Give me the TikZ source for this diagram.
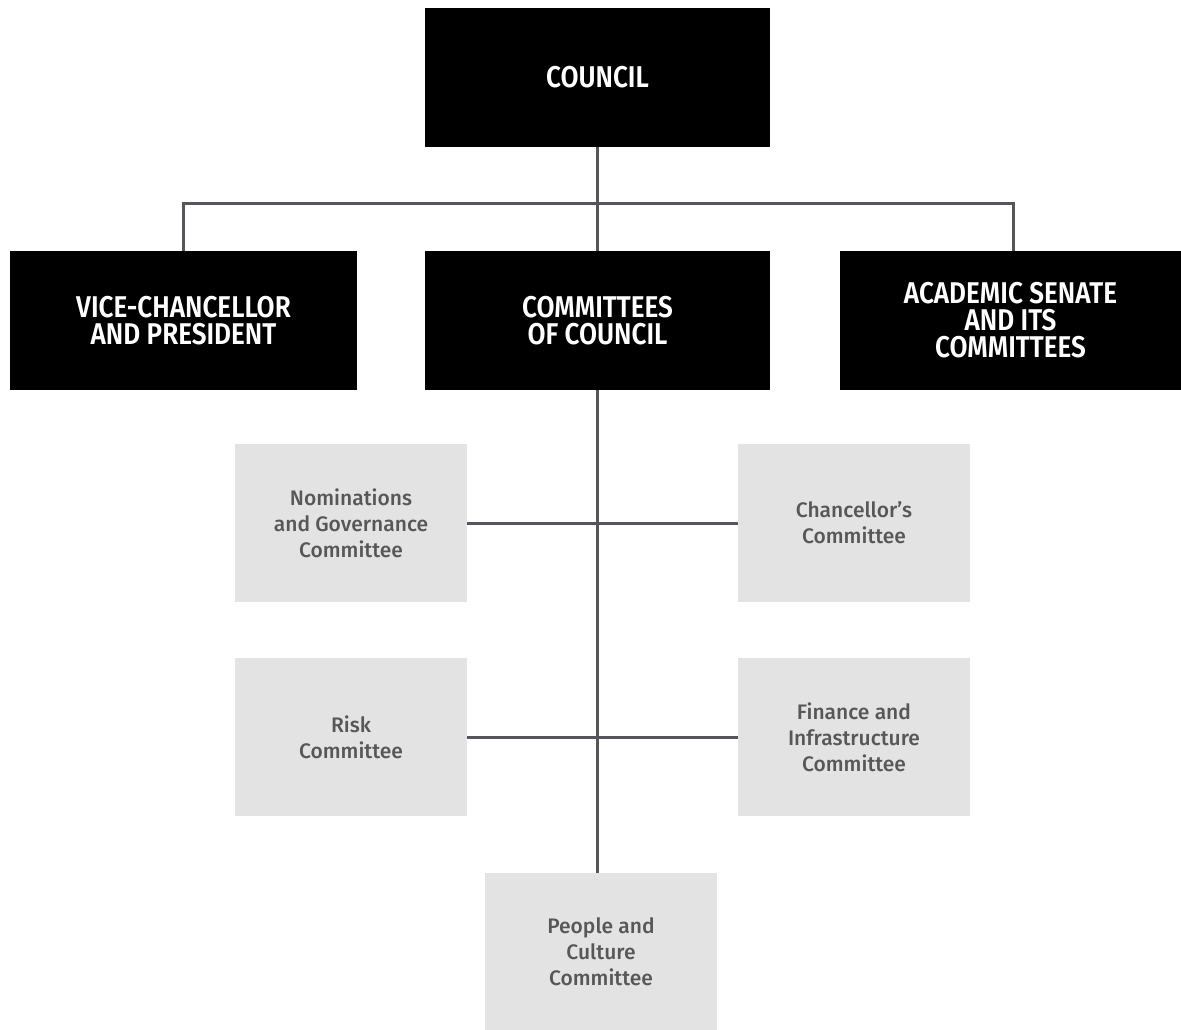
\documentclass[tikz,border=0pt]{standalone}
\usepackage{fontspec}
\setmainfont{Fira Sans}
\newfontfamily\headfont{Fira Sans SemiBold}[FakeStretch=0.87]
\newfontfamily\subfont{Fira Sans Medium}
\usepackage{tikz}
\usetikzlibrary{positioning}
\definecolor{linegray}{HTML}{55555C}
\definecolor{boxgray}{HTML}{E3E3E3}
\definecolor{textgray}{HTML}{575757}

\begin{document}
\begin{tikzpicture}[x=1pt,y=-1pt]
		\tikzstyle{headbox}=[fill=black,text=white,align=center,inner sep=0pt,minimum height=139pt,font={\headfont\fontsize{30}{27}\selectfont}]
		\tikzstyle{subbox}=[fill=boxgray,text=textgray,align=center,inner sep=0pt,minimum width=232pt,minimum height=158pt,font={\subfont\fontsize{21}{26}\selectfont}]
		\tikzstyle{link}=[line width=3pt,linegray]
		
		\useasboundingbox (0,0) rectangle (1181,1030);
		
		% top level
		\node[headbox,minimum width=345pt] (council) at (597.5,77.5) {COUNCIL};
		\node[headbox,minimum width=347pt] (vc) at (183.5,320.5) {VICE-CHANCELLOR\\AND PRESIDENT};
		\node[headbox,minimum width=345pt] (cttees) at (597.5,320.5) {COMMITTEES\\OF COUNCIL};
		\node[headbox,minimum width=341pt] (senate) at (1010.5,320.5) {ACADEMIC SENATE\\AND ITS\\COMMITTEES};
		
		% committees of council
		\node[subbox] (nominations) at (351,523) {Nominations\\and Governance\\Committee};
		\node[subbox] (chancellor) at (854,523) {Chancellor’s\\Committee};
		\node[subbox] (risk) at (351,737) {Risk\\Committee};
		\node[subbox] (finance) at (854,737) {Finance and\\Infrastructure\\Committee};
		\node[subbox,minimum height=157pt] (people) at (601,951.5) {People and\\Culture\\Committee};
		
		\coordinate (bus) at (597.5,203);
		\draw[link] (council.south) -- (bus);
		\draw[link] (vc.north) |- (bus);
		\draw[link] (cttees.north) -- (bus);
		\draw[link] ([xshift=2.5pt]senate.north) |- (bus);
		\draw[link] (cttees.south) -- (cttees.south |- people.north);
		\draw[link] (nominations.east) -- (chancellor.west);
		\draw[link] (risk.east) -- (finance.west);
\end{tikzpicture}
\end{document}
